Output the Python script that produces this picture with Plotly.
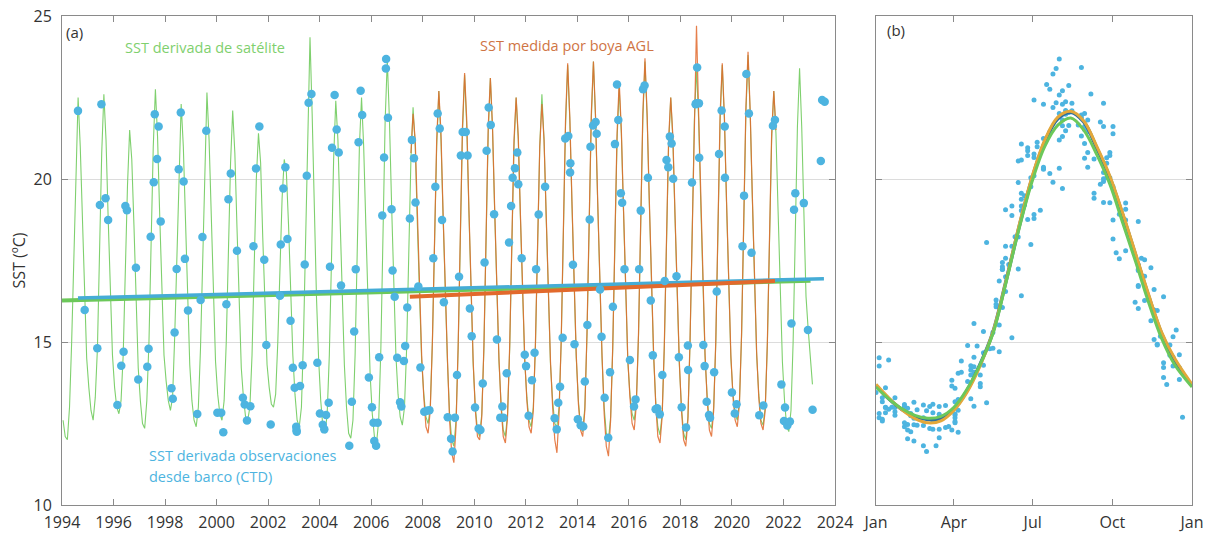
import math
import plotly.graph_objects as go

# ---------------- data ----------------
# Satellite SST, monthly values (Jan..Dec) starting Jan 1994
sat_start = 1994.0
sat_sst = [
    12.6, 12.1, 12.0, 13.0, 15.0, 17.5, 20.5, 22.5, 21.0, 19.0, 16.5, 14.5,   # 1994
    13.6, 12.9, 12.6, 13.3, 14.8, 17.8, 20.8, 22.6, 21.2, 18.8, 16.4, 14.6,   # 1995
    13.6, 13.0, 12.8, 13.2, 14.6, 17.2, 19.8, 21.5, 20.6, 18.6, 16.2, 14.2,   # 1996
    13.2, 12.5, 12.35, 13.2, 15.0, 18.0, 21.0, 22.75, 21.3, 18.9, 16.5, 14.6, # 1997
    13.8, 13.2, 12.9, 13.3, 15.2, 17.8, 20.6, 22.3, 21.0, 18.6, 16.0, 14.3,   # 1998
    13.2, 12.6, 12.4, 13.0, 14.8, 17.6, 20.8, 22.65, 21.2, 18.7, 16.2, 14.4,  # 1999
    13.4, 12.8, 12.6, 13.2, 15.0, 17.8, 20.5, 22.1, 20.8, 18.5, 16.0, 14.2,   # 2000
    13.3, 12.7, 12.6, 13.0, 14.6, 17.4, 20.0, 21.4, 20.5, 18.2, 16.0, 14.3,   # 2001
    13.6, 13.1, 13.0, 13.4, 15.0, 17.0, 19.4, 20.6, 20.2, 18.6, 16.4, 14.6,   # 2002
    13.4, 12.6, 12.4, 13.0, 15.2, 18.5, 21.8, 24.35, 22.0, 19.0, 16.4, 14.5,  # 2003
    13.2, 12.4, 12.2, 12.8, 14.6, 17.5, 20.6, 22.4, 21.2, 18.8, 16.2, 14.3,   # 2004
    13.0, 12.2, 12.05, 12.6, 14.6, 17.8, 21.0, 22.5, 21.0, 18.6, 16.2, 14.0,  # 2005
    12.8, 12.1, 11.9, 12.6, 14.8, 18.2, 21.8, 23.65, 21.8, 19.2, 16.6, 14.6,  # 2006
    13.4, 12.7, 12.45, 13.0, 14.8, 17.6, 20.6, 22.2, 21.0, 18.6, 16.2, 14.4,  # 2007
    13.4, 12.7, 12.5, 13.0, 15.0, 18.0, 21.0, 22.7, 21.2, 18.8, 16.3, 14.4,   # 2008
    12.8, 12.0, 11.8, 12.6, 14.8, 18.0, 21.4, 23.2, 21.6, 19.0, 16.4, 14.3,   # 2009
    13.0, 12.3, 12.1, 12.8, 14.8, 18.2, 21.4, 23.1, 21.5, 19.0, 16.4, 14.4,   # 2010
    13.1, 12.3, 12.1, 12.8, 14.8, 17.8, 21.0, 22.5, 21.2, 18.8, 16.4, 14.4,   # 2011
    13.3, 12.6, 12.4, 13.0, 14.9, 18.0, 21.0, 22.6, 21.2, 18.8, 16.2, 14.3,   # 2012
    13.2, 12.5, 12.4, 13.0, 15.0, 18.4, 21.6, 23.5, 21.8, 19.2, 16.6, 14.5,   # 2013
    13.2, 12.4, 12.25, 13.0, 15.2, 18.6, 21.8, 23.6, 21.8, 19.2, 16.6, 14.5,  # 2014
    13.0, 12.2, 12.0, 12.7, 14.8, 18.0, 21.2, 22.8, 21.4, 19.0, 16.5, 14.4,   # 2015
    13.4, 12.8, 12.6, 13.2, 15.2, 18.6, 21.8, 23.6, 21.9, 19.3, 16.6, 14.6,   # 2016
    13.2, 12.4, 12.15, 12.8, 14.8, 18.0, 21.0, 22.5, 21.2, 18.8, 16.4, 14.3,  # 2017
    13.0, 12.2, 12.0, 12.7, 15.0, 18.4, 21.8, 23.4, 21.8, 19.2, 16.6, 14.5,   # 2018
    13.3, 12.5, 12.35, 13.0, 15.0, 18.4, 21.8, 23.5, 21.8, 19.2, 16.6, 14.5,  # 2019
    13.4, 12.8, 12.6, 13.2, 15.2, 18.6, 22.0, 23.8, 22.0, 19.4, 16.8, 14.6,   # 2020
    13.4, 12.6, 12.45, 13.0, 14.9, 18.0, 21.2, 22.7, 21.4, 19.0, 16.5, 14.4,  # 2021
    13.2, 12.4, 12.25, 12.9, 15.0, 18.4, 21.6, 23.4, 21.6, 19.0, 16.4, 15.4,  # 2022
    14.6, 13.7,                                                               # 2023
]

# Buoy AGL SST, monthly values starting Jul 2007
buoy_start = 2007.5
buoy_sst = [
    20.8, 22.0, 21.2, 18.8, 16.4, 14.6,                                        # 2007 (Jul-Dec)
    13.3, 12.4, 12.2, 12.9, 15.0, 18.2, 21.2, 22.7, 21.4, 18.9, 16.4, 14.5,   # 2008
    12.6, 11.6, 11.3, 12.4, 14.9, 18.2, 21.6, 23.25, 21.8, 19.1, 16.5, 14.4,  # 2009
    12.9, 12.1, 12.0, 12.7, 14.9, 18.4, 21.6, 23.1, 21.6, 19.1, 16.5, 14.5,   # 2010
    13.0, 12.1, 11.9, 12.7, 14.9, 18.0, 21.2, 22.5, 21.3, 18.9, 16.5, 14.5,   # 2011
    13.2, 12.4, 12.2, 12.9, 15.0, 18.0, 21.0, 22.3, 21.2, 18.9, 16.3, 14.4,   # 2012
    13.0, 12.0, 11.6, 12.8, 15.1, 18.6, 21.8, 23.55, 21.9, 19.3, 16.7, 14.6,  # 2013
    13.1, 12.3, 12.1, 12.9, 15.3, 18.8, 22.0, 23.6, 21.9, 19.3, 16.7, 14.6,   # 2014
    12.8, 11.8, 11.5, 12.6, 14.9, 18.2, 21.4, 23.0, 21.5, 19.1, 16.6, 14.5,   # 2015
    13.3, 12.5, 12.3, 13.1, 15.3, 18.8, 22.0, 23.7, 22.0, 19.4, 16.7, 14.7,   # 2016
    13.1, 12.1, 11.9, 12.7, 14.9, 18.2, 21.2, 22.5, 21.3, 18.9, 16.5, 14.4,   # 2017
    12.9, 12.0, 11.8, 12.6, 15.1, 18.6, 22.2, 24.7, 22.0, 19.3, 16.7, 14.6,   # 2018
    13.2, 12.3, 12.1, 12.9, 15.1, 18.6, 22.0, 23.55, 21.9, 19.3, 16.7, 14.6,  # 2019
    13.3, 12.6, 12.4, 13.1, 15.3, 18.8, 22.2, 23.9, 22.1, 19.5, 16.9, 14.7,   # 2020
    13.3, 12.5, 12.3, 12.9, 15.0, 18.2, 21.4, 22.7, 21.5,                     # 2021 (Jan-Sep)
]

# CTD (ship) observations: decimal year and SST
ctd_year = [
    1994.62, 1994.88, 1995.37, 1995.47, 1995.53, 1995.69, 1995.79, 1996.15, 1996.30, 1996.39,
    1996.46, 1996.52, 1996.87, 1996.96, 1997.31, 1997.36, 1997.44, 1997.56, 1997.60, 1997.69,
    1997.75, 1997.83, 1998.25, 1998.30, 1998.37, 1998.45, 1998.53, 1998.61, 1998.72, 1998.77,
    1998.89, 1999.25, 1999.38, 1999.45, 1999.60, 2000.03, 2000.18, 2000.26, 2000.38, 2000.46,
    2000.55, 2000.79, 2001.02, 2001.09, 2001.18, 2001.31, 2001.43, 2001.53, 2001.66, 2001.85,
    2001.93, 2002.10, 2002.46, 2002.49, 2002.59, 2002.67, 2002.75, 2002.87, 2002.96, 2003.03,
    2003.09, 2003.10, 2003.11, 2003.24, 2003.34, 2003.42, 2003.50, 2003.57, 2003.68, 2003.91,
    2004.01, 2004.12, 2004.18, 2004.25, 2004.35, 2004.40, 2004.48, 2004.58, 2004.66, 2004.74,
    2004.83, 2005.15, 2005.25, 2005.34, 2005.40, 2005.51, 2005.59, 2005.65, 2005.91, 2006.03,
    2006.09, 2006.12, 2006.19, 2006.25, 2006.31, 2006.43, 2006.50, 2006.57, 2006.58, 2006.65,
    2006.79, 2006.83, 2006.91, 2007.01, 2007.12, 2007.17, 2007.27, 2007.32, 2007.40, 2007.50,
    2007.58, 2007.66, 2007.72, 2007.83, 2007.91, 2008.06, 2008.16, 2008.26, 2008.41, 2008.49,
    2008.58, 2008.66, 2008.75, 2008.82, 2008.97, 2009.10, 2009.16, 2009.25, 2009.33, 2009.41,
    2009.48, 2009.55, 2009.67, 2009.74, 2009.83, 2009.90, 2010.03, 2010.17, 2010.24, 2010.33,
    2010.40, 2010.48, 2010.56, 2010.64, 2010.77, 2010.88, 2011.01, 2011.09, 2011.13, 2011.26,
    2011.35, 2011.43, 2011.49, 2011.58, 2011.67, 2011.71, 2011.84, 2011.96, 2012.01, 2012.11,
    2012.24, 2012.34, 2012.40, 2012.50, 2012.75, 2013.12, 2013.20, 2013.26, 2013.33, 2013.43,
    2013.53, 2013.65, 2013.72, 2013.73, 2013.83, 2013.89, 2014.02, 2014.13, 2014.23, 2014.29,
    2014.39, 2014.48, 2014.51, 2014.61, 2014.71, 2014.75, 2014.88, 2014.94, 2015.06, 2015.20,
    2015.27, 2015.38, 2015.46, 2015.54, 2015.59, 2015.69, 2015.74, 2015.83, 2016.04, 2016.20,
    2016.26, 2016.40, 2016.46, 2016.55, 2016.61, 2016.74, 2016.85, 2016.93, 2017.04, 2017.10,
    2017.20, 2017.30, 2017.39, 2017.46, 2017.53, 2017.59, 2017.66, 2017.72, 2017.85, 2017.94,
    2018.05, 2018.22, 2018.29, 2018.30, 2018.45, 2018.59, 2018.62, 2018.65, 2018.72, 2018.73,
    2018.89, 2018.94, 2019.02, 2019.11, 2019.15, 2019.31, 2019.41, 2019.50, 2019.60, 2019.72,
    2019.73, 2020.00, 2020.11, 2020.18, 2020.41, 2020.47, 2020.56, 2020.66, 2020.76, 2021.06,
    2021.22, 2021.59, 2021.67, 2021.92, 2022.02, 2022.06, 2022.15, 2022.25, 2022.31, 2022.41,
    2022.46, 2022.79, 2022.95, 2023.13, 2023.45, 2023.50, 2023.60,
]
ctd_sst = [
    22.09, 15.98, 14.81, 19.20, 22.29, 19.41, 18.74, 13.07, 14.27, 14.70,
    19.17, 19.04, 17.28, 13.85, 14.24, 14.79, 18.23, 19.90, 21.99, 20.61,
    21.61, 18.70, 13.58, 13.26, 15.29, 17.24, 20.30, 22.04, 19.92, 17.55,
    15.97, 12.79, 16.29, 18.22, 21.48, 12.83, 12.83, 12.23, 16.16, 19.38,
    20.17, 17.80, 13.29, 13.08, 12.59, 13.03, 17.94, 20.32, 21.61, 17.52,
    14.91, 12.47, 16.42, 17.99, 19.71, 20.36, 18.16, 15.65, 14.21, 13.60,
    12.40, 12.30, 12.25, 13.65, 14.29, 17.38, 20.10, 22.34, 22.61, 14.36,
    12.81, 12.46, 12.32, 12.76, 13.14, 17.31, 20.96, 22.58, 21.52, 20.81,
    16.73, 11.82, 13.17, 15.32, 17.23, 21.13, 22.71, 21.96, 13.91, 13.00,
    12.52, 11.96, 11.82, 12.52, 14.53, 18.88, 20.66, 23.39, 23.68, 21.88,
    19.07, 17.19, 16.39, 14.52, 13.15, 13.02, 14.42, 14.88, 16.06, 18.79,
    21.20, 20.64, 19.28, 16.70, 14.22, 12.86, 12.89, 12.91, 17.57, 19.76,
    22.01, 21.55, 18.74, 16.22, 12.69, 12.03, 11.64, 12.68, 13.99, 17.00,
    20.72, 21.44, 21.44, 20.72, 16.03, 15.18, 12.99, 12.35, 12.30, 13.73,
    17.44, 20.87, 22.19, 21.66, 18.92, 15.08, 12.68, 13.02, 12.68, 14.04,
    18.05, 19.17, 20.04, 20.33, 20.81, 19.84, 17.57, 14.61, 14.26, 12.74,
    13.83, 14.67, 17.23, 18.91, 19.76, 12.66, 12.32, 13.14, 13.63, 15.13,
    21.24, 21.32, 20.20, 20.48, 17.37, 14.93, 12.63, 12.45, 12.41, 13.79,
    15.52, 18.76, 20.99, 21.64, 21.75, 21.39, 16.61, 15.16, 13.29, 12.06,
    14.07, 16.08, 21.07, 22.90, 21.81, 19.56, 19.27, 17.23, 14.45, 13.02,
    13.24, 17.23, 19.03, 22.75, 22.87, 20.04, 16.27, 14.59, 12.94, 12.97,
    12.78, 13.99, 16.87, 20.58, 20.36, 21.30, 21.09, 20.01, 17.02, 14.53,
    13.00, 12.38, 14.89, 14.14, 19.89, 22.29, 22.32, 23.42, 22.32, 20.65,
    14.91, 14.26, 13.17, 12.76, 12.68, 14.07, 16.55, 20.77, 22.10, 21.61,
    20.04, 13.45, 12.81, 13.09, 17.94, 19.49, 23.22, 22.01, 17.74, 12.75,
    13.05, 21.63, 21.81, 13.70, 12.58, 12.99, 12.44, 12.56, 15.57, 19.06,
    19.56, 19.26, 15.37, 12.92, 20.55, 22.42, 22.37,
]

# Linear trends (start/end year and value)
trend_sat_year = [1994.0, 2023.05]
trend_sat_sst = [16.27, 16.88]
trend_ctd_year = [1994.62, 2023.57]
trend_ctd_sst = [16.35, 16.94]
trend_buoy_year = [2007.5, 2021.67]
trend_buoy_sst = [16.39, 16.87]

# Seasonal climatology curves (day of year)
clim_doy = [0, 15, 30, 45, 60, 75, 90, 105, 120, 135, 150, 165, 180,
            195, 210, 225, 240, 255, 270, 285, 300, 315, 330, 345, 365]
clim_sat = [13.62, 13.25, 12.95, 12.75, 12.66, 12.72, 13.0, 13.55, 14.3, 15.25, 16.8, 18.45, 19.9,
            21.0, 21.65, 21.87, 21.5, 20.75, 19.85, 18.65, 17.45, 16.2, 15.1, 14.3, 13.62]
clim_buoy = [13.7, 13.28, 12.92, 12.65, 12.52, 12.58, 12.9, 13.45, 14.25, 15.3, 16.85, 18.55, 20.05,
             21.2, 21.9, 22.08, 21.78, 21.0, 20.1, 18.95, 17.7, 16.45, 15.3, 14.5, 13.7]
clim_ctd = [13.65, 13.25, 12.93, 12.72, 12.62, 12.66, 12.95, 13.5, 14.3, 15.3, 16.85, 18.5, 20.0,
            21.15, 21.85, 22.05, 21.75, 20.95, 20.05, 18.9, 17.65, 16.4, 15.25, 14.45, 13.65]

year_ticks = list(range(1994, 2025, 2))
month_tick_doy = [0, 90, 181, 273, 365]
month_tick_text = ["Jan", "Apr", "Jul", "Oct", "Jan"]

# ---------------- styles ----------------
C_SAT = "#7fd06e"
C_SAT_TREND = "#6cc85a"
C_BUOY = "#e2692c"
C_CTD = "#4db4e0"
C_CTD_TREND = "#45acd6"
C_GOLD = "#e3a83a"
C_DARKBLUE = "#2c6e9e"
FONT = "Open Sans"
TXT = "#333333"

W, H = 1210, 533
ML, MR, MT, MB = 62, 18, 16, 28
PW = W - ML - MR

sat_x = [sat_start + (i + 0.5) / 12 for i in range(len(sat_sst))]
buoy_x = [buoy_start + (i + 0.5) / 12 for i in range(len(buoy_sst))]
ctd_doy = [(y - math.floor(y)) * 365 for y in ctd_year]

fig = go.Figure()

# Panel (a)
fig.add_trace(go.Scatter(x=sat_x, y=sat_sst, mode="lines",
                         line=dict(color=C_SAT, width=1.1), xaxis="x", yaxis="y",
                         showlegend=False))
fig.add_trace(go.Scatter(x=buoy_x, y=buoy_sst, mode="lines",
                         line=dict(color=C_BUOY, width=1.2), opacity=0.85,
                         xaxis="x", yaxis="y", showlegend=False))
fig.add_trace(go.Scatter(x=trend_sat_year, y=trend_sat_sst, mode="lines",
                         line=dict(color=C_SAT_TREND, width=4), xaxis="x", yaxis="y",
                         showlegend=False))
fig.add_trace(go.Scatter(x=trend_ctd_year, y=trend_ctd_sst, mode="lines",
                         line=dict(color=C_CTD_TREND, width=3.5), xaxis="x", yaxis="y",
                         showlegend=False))
fig.add_trace(go.Scatter(x=trend_buoy_year, y=trend_buoy_sst, mode="lines",
                         line=dict(color=C_BUOY, width=4), xaxis="x", yaxis="y",
                         showlegend=False))
fig.add_trace(go.Scatter(x=ctd_year, y=ctd_sst, mode="markers",
                         marker=dict(color=C_CTD, size=8.5, line=dict(width=0)),
                         xaxis="x", yaxis="y", showlegend=False))

# Panel (b)
fig.add_trace(go.Scatter(x=ctd_doy, y=ctd_sst, mode="markers",
                         marker=dict(color=C_CTD, size=5, line=dict(width=0)),
                         xaxis="x2", yaxis="y2", showlegend=False))
fig.add_trace(go.Scatter(x=clim_doy, y=clim_ctd, mode="lines", line_shape="spline",
                         line=dict(color=C_DARKBLUE, width=3.5), xaxis="x2", yaxis="y2",
                         showlegend=False))
fig.add_trace(go.Scatter(x=clim_doy, y=clim_buoy, mode="lines", line_shape="spline",
                         line=dict(color=C_GOLD, width=3), xaxis="x2", yaxis="y2",
                         showlegend=False))
fig.add_trace(go.Scatter(x=clim_doy, y=clim_sat, mode="lines", line_shape="spline",
                         line=dict(color=C_SAT_TREND, width=3), xaxis="x2", yaxis="y2",
                         showlegend=False))

axis_common = dict(showline=True, linecolor="#8a8a8a", linewidth=1, mirror="ticks",
                   ticks="inside", ticklen=6, tickcolor="#8a8a8a",
                   zeroline=False, automargin=False,
                   tickfont=dict(family=FONT, size=16, color=TXT))

fig.update_layout(
    width=W, height=H,
    margin=dict(l=ML, r=MR, t=MT, b=MB, autoexpand=False),
    paper_bgcolor="white", plot_bgcolor="white",
    font=dict(family=FONT, color=TXT),
    xaxis=dict(domain=[0, (835 - ML) / PW], range=[1994, 2024], tickvals=year_ticks,
               showgrid=False, anchor="y", ticklabelstandoff=3, **axis_common),
    yaxis=dict(domain=[0, 1], range=[10, 25], tickvals=[10, 15, 20, 25],
               showgrid=True, gridcolor="#dcdcdc", gridwidth=1, anchor="x",
               ticklabelstandoff=6, **axis_common),
    xaxis2=dict(domain=[(876 - ML) / PW, 1], range=[0, 365], tickvals=month_tick_doy,
                ticktext=month_tick_text, showgrid=False, anchor="y2",
                ticklabelstandoff=3, **axis_common),
    yaxis2=dict(domain=[0, 1], range=[10, 25], tickvals=[10, 15, 20, 25],
                showticklabels=False, showgrid=True, gridcolor="#dcdcdc", gridwidth=1,
                anchor="x2", **axis_common),
)

annotations = [
    dict(text="(a)", x=1994.08, y=24.5, xref="x", yref="y", xanchor="left", yanchor="middle",
         showarrow=False, font=dict(family=FONT, size=15, color=TXT)),
    dict(text="SST derivada de satélite", x=1996.37, y=24.02, xref="x", yref="y",
         xanchor="left", yanchor="middle", showarrow=False,
         font=dict(family=FONT, size=14.5, color=C_SAT)),
    dict(text="SST medida por boya AGL", x=2010.14, y=24.08, xref="x", yref="y",
         xanchor="left", yanchor="middle", showarrow=False,
         font=dict(family=FONT, size=14.5, color="#cf7444")),
    dict(text="SST derivada observaciones", x=1997.3, y=11.53, xref="x", yref="y",
         xanchor="left", yanchor="middle", showarrow=False,
         font=dict(family=FONT, size=14.5, color=C_CTD)),
    dict(text="desde barco (CTD)", x=1997.3, y=10.86, xref="x", yref="y",
         xanchor="left", yanchor="middle", showarrow=False,
         font=dict(family=FONT, size=14.5, color=C_CTD)),
    dict(text="(b)", x=10.4, y=24.57, xref="x2", yref="y2", xanchor="left", yanchor="middle",
         showarrow=False, font=dict(family=FONT, size=15, color=TXT)),
    dict(text="SST (ºC)", x=(18 - ML) / PW, y=0.5, xref="paper", yref="paper", textangle=-90,
         showarrow=False, xanchor="center", yanchor="middle",
         font=dict(family=FONT, size=16, color=TXT)),
]
fig.update_layout(annotations=annotations)

fig.write_html(
    "out.html",
    config={"displayModeBar": False},
    post_script="document.body.style.margin='0';document.body.style.overflow='hidden';",
)
